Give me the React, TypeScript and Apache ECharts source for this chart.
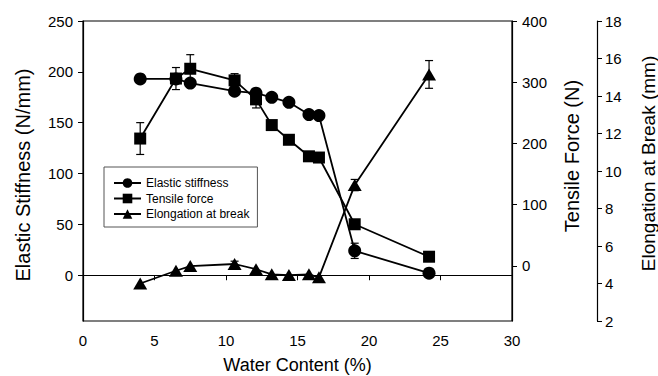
import React, { useEffect, useRef } from "react";
import * as echarts from "echarts";

const waterContent = [4.0, 6.5, 7.5, 10.6, 12.1, 13.2, 14.4, 15.8, 16.5, 19.0, 24.2];
const elasticStiffness = [193, 193, 189, 181, 179, 175, 170, 158, 157, 24, 2];
const elasticErr = [0, 3, 0, 0, 0, 0, 0, 0, 0, 7.5, 0];
const tensileForce = [208, 306, 322, 303, 272, 230, 206, 179, 177, 68, 15];
const tensileErr = [26, 18, 23, 11, 14, 0, 0, 0, 0, 0, 0];
const elongation = [4.0, 4.68, 4.93, 5.04, 4.76, 4.49, 4.45, 4.49, 4.33, 9.25, 15.15];
const elongErr = [0, 0, 0, 0.15, 0, 0, 0, 0, 0, 0.3, 0.74];

const leftTicks = [0, 50, 100, 150, 200, 250];
const tensileTicks = [0, 100, 200, 300, 400];

const FONT = "Liberation Sans, Arial, sans-serif";

function errData(vals: number[], errs: number[]) {
  const out: number[][] = [];
  for (let i = 0; i < vals.length; i++) {
    if (errs[i] > 0) out.push([waterContent[i], vals[i] - errs[i], vals[i] + errs[i]]);
  }
  return out;
}

function errSeries(name: string, yAxisIndex: number, vals: number[], errs: number[]) {
  return {
    type: "custom",
    name: name + "-err",
    yAxisIndex,
    silent: true,
    z: 1,
    data: errData(vals, errs),
    renderItem: (params: any, api: any) => {
      const x = api.value(0);
      const lo = api.coord([x, api.value(1)]);
      const hi = api.coord([x, api.value(2)]);
      const w = 4;
      const style = { stroke: "#000", lineWidth: 1.2 };
      return {
        type: "group",
        children: [
          { type: "line", shape: { x1: lo[0], y1: lo[1], x2: hi[0], y2: hi[1] }, style },
          { type: "line", shape: { x1: lo[0] - w, y1: lo[1], x2: lo[0] + w, y2: lo[1] }, style },
          { type: "line", shape: { x1: hi[0] - w, y1: hi[1], x2: hi[0] + w, y2: hi[1] }, style },
        ],
      };
    },
  };
}

function lineSeries(name: string, yAxisIndex: number, vals: number[], symbol: string, size: any) {
  return {
    type: "line",
    name,
    yAxisIndex,
    z: 3,
    data: vals.map((v, i) => [waterContent[i], v]),
    symbol,
    symbolSize: size,
    showAllSymbol: true,
    lineStyle: { color: "#000", width: 1.8 },
    itemStyle: { color: "#000", borderWidth: 0 },
    emphasis: { disabled: true },
  };
}

export default function App() {
  const ref = useRef<HTMLDivElement>(null);
  useEffect(() => {
    if (!ref.current) return;
    const chart = echarts.init(ref.current, undefined, { renderer: "svg" });
    const axisLine = { show: true, lineStyle: { color: "#000", width: 1.2 } };
    chart.setOption({
      animation: false,
      backgroundColor: "#fff",
      textStyle: { fontFamily: FONT },
      grid: {
        left: 83,
        right: 146,
        top: 21,
        bottom: 55,
        containLabel: false,
        outerBoundsMode: "none",
        show: true,
        borderColor: "#000",
        borderWidth: 1.2,
        backgroundColor: "transparent",
      },
      legend: {
        orient: "vertical",
        left: 104,
        top: 167,
        itemWidth: 27,
        itemHeight: 12,
        itemGap: 3.5,
        padding: [10, 8, 7, 9],
        borderColor: "#555",
        borderWidth: 1,
        data: ["Elastic stiffness", "Tensile force", "Elongation at break"],
        textStyle: { fontFamily: FONT, fontSize: 12, color: "#000" },
      },
      xAxis: {
        type: "value",
        min: 0,
        max: 30,
        interval: 5,
        axisLine,
        axisTick: { show: true, inside: false, length: 5, lineStyle: { color: "#000" } },
        axisLabel: { color: "#000", fontSize: 15, fontFamily: FONT, margin: 12 },
        splitLine: { show: false },
        name: "Water Content (%)",
        nameLocation: "middle",
        nameGap: 35,
        nameTextStyle: { color: "#000", fontSize: 18, fontFamily: FONT },
      },
      yAxis: [
        {
          type: "value",
          position: "left",
          min: -45,
          max: 250,
          axisLine,
          axisTick: { show: true, length: 5, lineStyle: { color: "#000" }, customValues: leftTicks },
          axisLabel: { color: "#000", fontSize: 15, fontFamily: FONT, margin: 10, customValues: leftTicks },
          splitLine: { show: false },
          name: "Elastic Stiffness (N/mm)",
          nameLocation: "middle",
          nameGap: 50,
          nameTextStyle: { color: "#000", fontSize: 20, fontFamily: FONT, padding: [0, 8, 0, 0] },
        },
        {
          type: "value",
          position: "right",
          min: -90,
          max: 400,
          axisLine,
          axisTick: { show: true, length: 5, lineStyle: { color: "#000" }, customValues: tensileTicks },
          axisLabel: { color: "#000", fontSize: 15, fontFamily: FONT, margin: 10, customValues: tensileTicks },
          splitLine: { show: false },
          name: "Tensile Force (N)",
          nameLocation: "middle",
          nameGap: 50,
          nameTextStyle: { color: "#000", fontSize: 20, fontFamily: FONT, padding: [0, 0, 0, 30] },
        },
        {
          type: "value",
          position: "right",
          offset: 85,
          min: 2,
          max: 18,
          interval: 2,
          axisLine,
          axisTick: { show: true, length: 5, lineStyle: { color: "#000" } },
          axisLabel: { color: "#000", fontSize: 15, fontFamily: FONT, margin: 8 },
          splitLine: { show: false },
          name: "Elongation at Break (mm)",
          nameLocation: "middle",
          nameGap: 42,
          nameTextStyle: { color: "#000", fontSize: 19, fontFamily: FONT, padding: [0, 0, 0, 15] },
        },
      ],
      series: [
        errSeries("Elastic stiffness", 0, elasticStiffness, elasticErr),
        errSeries("Tensile force", 1, tensileForce, tensileErr),
        errSeries("Elongation at break", 2, elongation, elongErr),
        lineSeries("Elastic stiffness", 0, elasticStiffness, "circle", 13),
        lineSeries("Tensile force", 1, tensileForce, "rect", 12),
        lineSeries("Elongation at break", 2, elongation, "triangle", [14, 12]),
      ],
    });
    return () => chart.dispose();
  }, []);
  return (
    <div
      ref={ref}
      style={{ position: "absolute", left: 0, top: 0, width: 658, height: 376 }}
    />
  );
}
